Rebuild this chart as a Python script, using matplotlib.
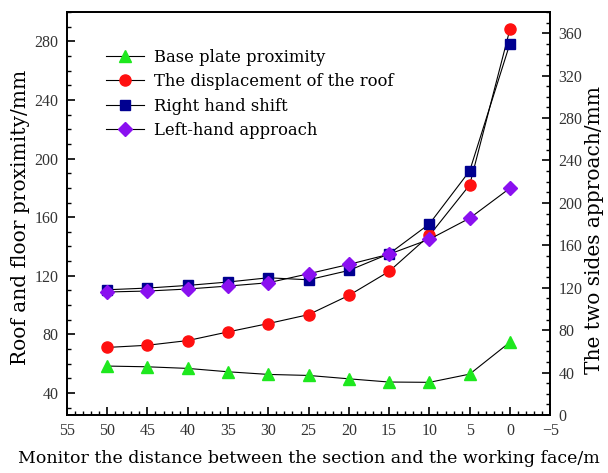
import matplotlib
matplotlib.use("Agg")
import matplotlib.pyplot as plt
from matplotlib.ticker import MultipleLocator
from matplotlib.lines import Line2D

distance = [50, 45, 40, 35, 30, 25, 20, 15, 10, 5, 0]
base_plate = [58.4, 57.9, 56.8, 54.5, 52.7, 52.0, 49.7, 47.5, 47.3, 52.9, 74.7]
roof_disp = [71.1, 72.6, 75.8, 81.7, 87.4, 93.5, 106.6, 123.0, 147.5, 182.0, 288.3]
right_shift = [118.1, 119.7, 122.2, 125.4, 129.4, 127.5, 136.3, 152.0, 180.2, 230.2, 350.3]
left_approach = [116.0, 116.9, 118.8, 121.6, 124.7, 133.2, 142.0, 151.6, 165.7, 185.6, 213.9]

labels = ["Base plate proximity", "The displacement of the roof",
          "Right hand shift", "Left-hand approach"]

serif = ["DejaVu Serif"]
tickfont = ["Liberation Serif"]

fig = plt.figure(figsize=(6.08, 4.73), dpi=100)
ax = fig.add_axes([0.110, 0.1226, 0.795, 0.852])
ax2 = ax.twinx()

lw = 0.8
ax.plot(distance, base_plate, color="black", lw=lw, zorder=2)
ax.plot(distance, base_plate, ls="none", marker="^", ms=8.5, color="#1ee81e", zorder=3)
ax.plot(distance, roof_disp, color="black", lw=lw, zorder=2)
ax.plot(distance, roof_disp, ls="none", marker="o", ms=8, color="#ff1010", zorder=3)
ax2.plot(distance, right_shift, color="black", lw=lw, zorder=2)
ax2.plot(distance, right_shift, ls="none", marker="s", ms=6.5, color="#000090", zorder=3)
ax2.plot(distance, left_approach, color="black", lw=lw, zorder=2)
ax2.plot(distance, left_approach, ls="none", marker="D", ms=7, color="#8a10f0", zorder=3)

ax.set_xlim(55, -5)
ax.set_ylim(25, 300)
ax2.set_ylim(0, 380)

ax.xaxis.set_major_locator(MultipleLocator(5))
ax.xaxis.set_minor_locator(MultipleLocator(1))
ax.yaxis.set_major_locator(MultipleLocator(40))
ax.yaxis.set_minor_locator(MultipleLocator(10))
ax2.yaxis.set_major_locator(MultipleLocator(40))
ax2.yaxis.set_minor_locator(MultipleLocator(10))

ax.tick_params(axis="both", which="major", direction="in", length=6, width=1.2,
               labelsize=11.5, top=False, right=False, pad=6)
ax.tick_params(axis="both", which="minor", direction="in", length=3, width=1.0,
               top=False, right=False)
ax2.tick_params(axis="y", which="major", direction="in", length=6, width=1.2,
                labelsize=11.5, pad=6)
ax2.tick_params(axis="y", which="minor", direction="in", length=3, width=1.0)

for a in (ax, ax2):
    for s in a.spines.values():
        s.set_linewidth(1.3)
    for t in a.get_xticklabels() + a.get_yticklabels():
        t.set_family(tickfont)
        t.set_color("#333333")
ax.set_yticks([40, 80, 120, 160, 200, 240, 280])

ax.set_xlabel("Monitor the distance between the section and the working face/m",
              family=serif, fontsize=12.5, labelpad=8)
ax.set_ylabel("Roof and floor proximity/mm", family=serif, fontsize=14.5, labelpad=3)
ax.yaxis.label.set_y(0.49)
ax2.set_ylabel("The two sides approach/mm", family=serif, fontsize=14.5, labelpad=2)
ax2.yaxis.label.set_y(0.46)

handles = [
    Line2D([], [], color="black", lw=lw, marker="^", ms=8.5, mfc="#1ee81e", mec="#1ee81e"),
    Line2D([], [], color="black", lw=lw, marker="o", ms=8, mfc="#ff1010", mec="#ff1010"),
    Line2D([], [], color="black", lw=lw, marker="s", ms=6.5, mfc="#000090", mec="#000090"),
    Line2D([], [], color="black", lw=lw, marker="D", ms=7, mfc="#8a10f0", mec="#8a10f0"),
]
ax.legend(handles, labels, loc="upper left", bbox_to_anchor=(0.068, 0.925),
          frameon=False, prop={"family": serif, "size": 11.8},
          handlelength=2.3, handletextpad=0.6, labelspacing=0.45, borderaxespad=0)

fig.savefig("out.png", dpi=100)
